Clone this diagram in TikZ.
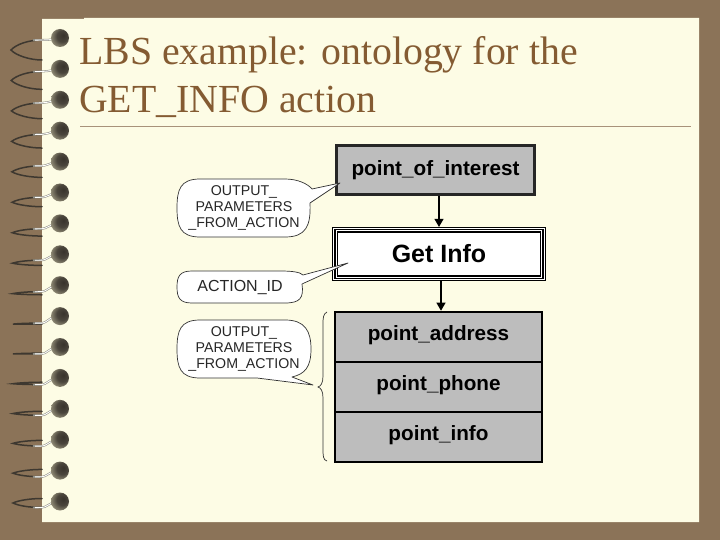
\documentclass[tikz,border=0pt]{standalone}
\usepackage{fontspec}
\setmainfont{Liberation Serif}
\newfontfamily\lab{Liberation Sans}
\usetikzlibrary{arrows.meta,shadings}
\definecolor{desk}{HTML}{8B7358}
\definecolor{paper}{HTML}{FDFCE5}
\definecolor{titlec}{HTML}{845B32}
\definecolor{boxgray}{HTML}{BDBDBD}
\definecolor{ruleC}{HTML}{A8927A}
\definecolor{ballA}{HTML}{38332C}
\definecolor{ballB}{HTML}{4A453C}
\definecolor{ballC}{HTML}{807B68}
\definecolor{ballD}{HTML}{B5B19A}
\definecolor{ballE}{HTML}{E6E3CA}
\definecolor{wireDark}{HTML}{3E3830}
\definecolor{wireGray}{HTML}{8F8E84}
\pgfdeclareradialshading{ballshade}{\pgfpoint{10bp}{8bp}}{
 color(0bp)=(ballA); color(16bp)=(ballB); color(27bp)=(ballC); color(38bp)=(ballD); color(50bp)=(ballE)}
\tikzset{
  titletext/.style={anchor=west,inner sep=0pt,text=titlec,font=\fontsize{39.8}{39.8}\selectfont},
  graybox/.style={draw=black,fill=boxgray,line width=2.6pt,minimum width=207pt,minimum height=50pt,inner sep=0pt,font=\lab\bfseries\fontsize{20.7}{20.7}\selectfont},
  topbox/.style={draw=black!85,fill=boxgray,line width=2.2pt,minimum width=198pt,minimum height=49pt,inner sep=0pt,font=\lab\bfseries\fontsize{20.7}{20.7}\selectfont},
  bubbletext/.style={align=center,inner sep=0pt,text=black!85,font=\lab\fontsize{14.2}{15.6}\selectfont},
  bubble/.style={draw=black!80,fill=white,line width=0.7pt,line join=round},
  link/.style={draw=black,line width=1.1pt,-{Triangle[length=8pt,width=9pt]}},
}
\newcommand{\lowered}[1]{\raisebox{-3pt}[0pt][0pt]{#1}}
\begin{document}
\begin{tikzpicture}[x=1pt,y=-1pt]
\useasboundingbox (0,0) rectangle (720,540);
\fill[desk] (0,0) rectangle (720,540);
\fill[paper] (42,19) -- (84,19) -- (84,18) -- (699,18) -- (699,522) -- (42,522) -- cycle;
% spiral binding
\foreach \i in {0,...,15}{
  \pgfmathsetmacro{\yb}{38+30.9*\i}
  \pgfmathsetmacro{\tu}{min(\i/9,1)}
  \pgfmathsetmacro{\tv}{max((\i-9)/6,0)}
  \pgfmathsetmacro{\ya}{\yb+2+5*\tu-\tv}
  \pgfmathsetmacro{\yl}{\yb+12-4*\tu-6.5*\tv}
  \pgfmathsetmacro{\yc}{\yb+22-14*\tu-11*\tv}
  \pgfmathsetmacro{\ys}{\yb+1}
  \pgfmathsetmacro{\xl}{11+2*\tu}
  \pgfmathsetmacro{\yp}{\yl+0.55*(\yc-\yl)}
  \pgfmathsetmacro{\yq}{\yl+0.55*(\ya-\yl)}
  \pgfmathsetmacro{\xm}{\xl+5}
  \draw[wireDark,line width=1.5pt,line cap=round] (42,\yc) .. controls (30,\yc) and (\xm,\yp) .. (\xl,\yl) .. controls (\xm,\yq) and (28,\ya) .. (42,\ya);
  \draw[wireGray,line width=2pt] (33,\ya+0.2) -- (42,\ya) .. controls (46,\ya) and (49,\ys+1) .. (54,\ys);
  \draw[white,line width=0.9pt] (35,\ya+0.1) -- (42,\ya) .. controls (46,\ya) and (49,\ys+1) .. (54,\ys);
  \shade[shading=ballshade] (60,\yb) circle (9);
}
% title
\node[titletext] (t1) at (79,55) {LBS example: ontology for the};
\node[titletext] (t2) at (79,102) {GET\_INFO action};
\draw[ruleC,line width=0.7pt] (80,126.5) -- (691,126.5);
% boxes
\node[topbox] (poi) at (435.5,170) {point\_of\_interest};
\node[draw=black,line width=0.7pt,fill=white,minimum width=213pt,minimum height=53.5pt,inner sep=0pt] (getouter) at (439,254) {};
\node[draw=black,line width=1.2pt,fill=white,minimum width=208pt,minimum height=48.5pt,inner sep=0pt] (getmid) at (439,254) {};
\node[draw=black,line width=1.8pt,fill=white,minimum width=203pt,minimum height=43.5pt,inner sep=0pt,font=\lab\bfseries\fontsize{25}{25}\selectfont] (get) at (439,254) {Get Info};
\node[graybox] (addr) at (438.5,337) {\lowered{point\_address}};
\node[graybox] (phone) at (438.5,387) {\lowered{point\_phone}};
\node[graybox] (info) at (438.5,437) {\lowered{point\_info}};
\draw[link] (poi.south -| 439,170) -- (getouter.north -| 439,170);
\draw[link] (getouter.south -| 441,254) -- (addr.north -| 441,337);
% callouts
\coordinate (tipa) at (340,183);
\coordinate (tipb) at (348,263);
\coordinate (tipc) at (313,385);
\draw[bubble] (312,189) -- (tipa) -- (310,203)
  .. controls (311,226) and (306,237) .. (285,237)
  -- (200,237) .. controls (180,237) and (177,226) .. (177,208)
  .. controls (177,190) and (180,179) .. (200,179)
  -- (285,179) .. controls (298,179) and (308,184) .. (312,189) -- cycle;
\node[bubbletext] (ba) at (244,208) {OUTPUT\_\\PARAMETERS\\\_FROM\_ACTION};
\draw[bubble] (303,275) -- (tipb) -- (302,284)
  .. controls (304,298) and (300,303) .. (285,303)
  -- (192,303) .. controls (180,303) and (177,298) .. (177,287)
  .. controls (177,276) and (180,271) .. (192,271)
  -- (280,271) .. controls (292,271) and (300,272) .. (303,275) -- cycle;
\node[bubbletext,font=\lab\fontsize{16}{16}\selectfont] (bb) at (240,288) {ACTION\_ID};
\draw[bubble] (292,377) -- (tipc) -- (257,378)
  -- (200,378) .. controls (180,378) and (177,367) .. (177,349)
  .. controls (177,331) and (180,320) .. (200,320)
  -- (285,320) .. controls (305,320) and (311,331) .. (311,349)
  .. controls (311,367) and (305,374) .. (292,377) -- cycle;
\node[bubbletext] (bc) at (244,349) {OUTPUT\_\\PARAMETERS\\\_FROM\_ACTION};
% brace
\coordinate (bt) at (327,312);
\coordinate (bm) at (318,387);
\coordinate (bb2) at (327,461);
\draw[black!80,line width=0.7pt] (bt) .. controls (323,314) and (323,318) .. (323,325) -- (323,376) .. controls (323,383) and (321,386) .. (bm) .. controls (321,388) and (323,391) .. (323,398) -- (323,448) .. controls (323,456) and (323,460) .. (bb2);
\end{tikzpicture}
\end{document}
